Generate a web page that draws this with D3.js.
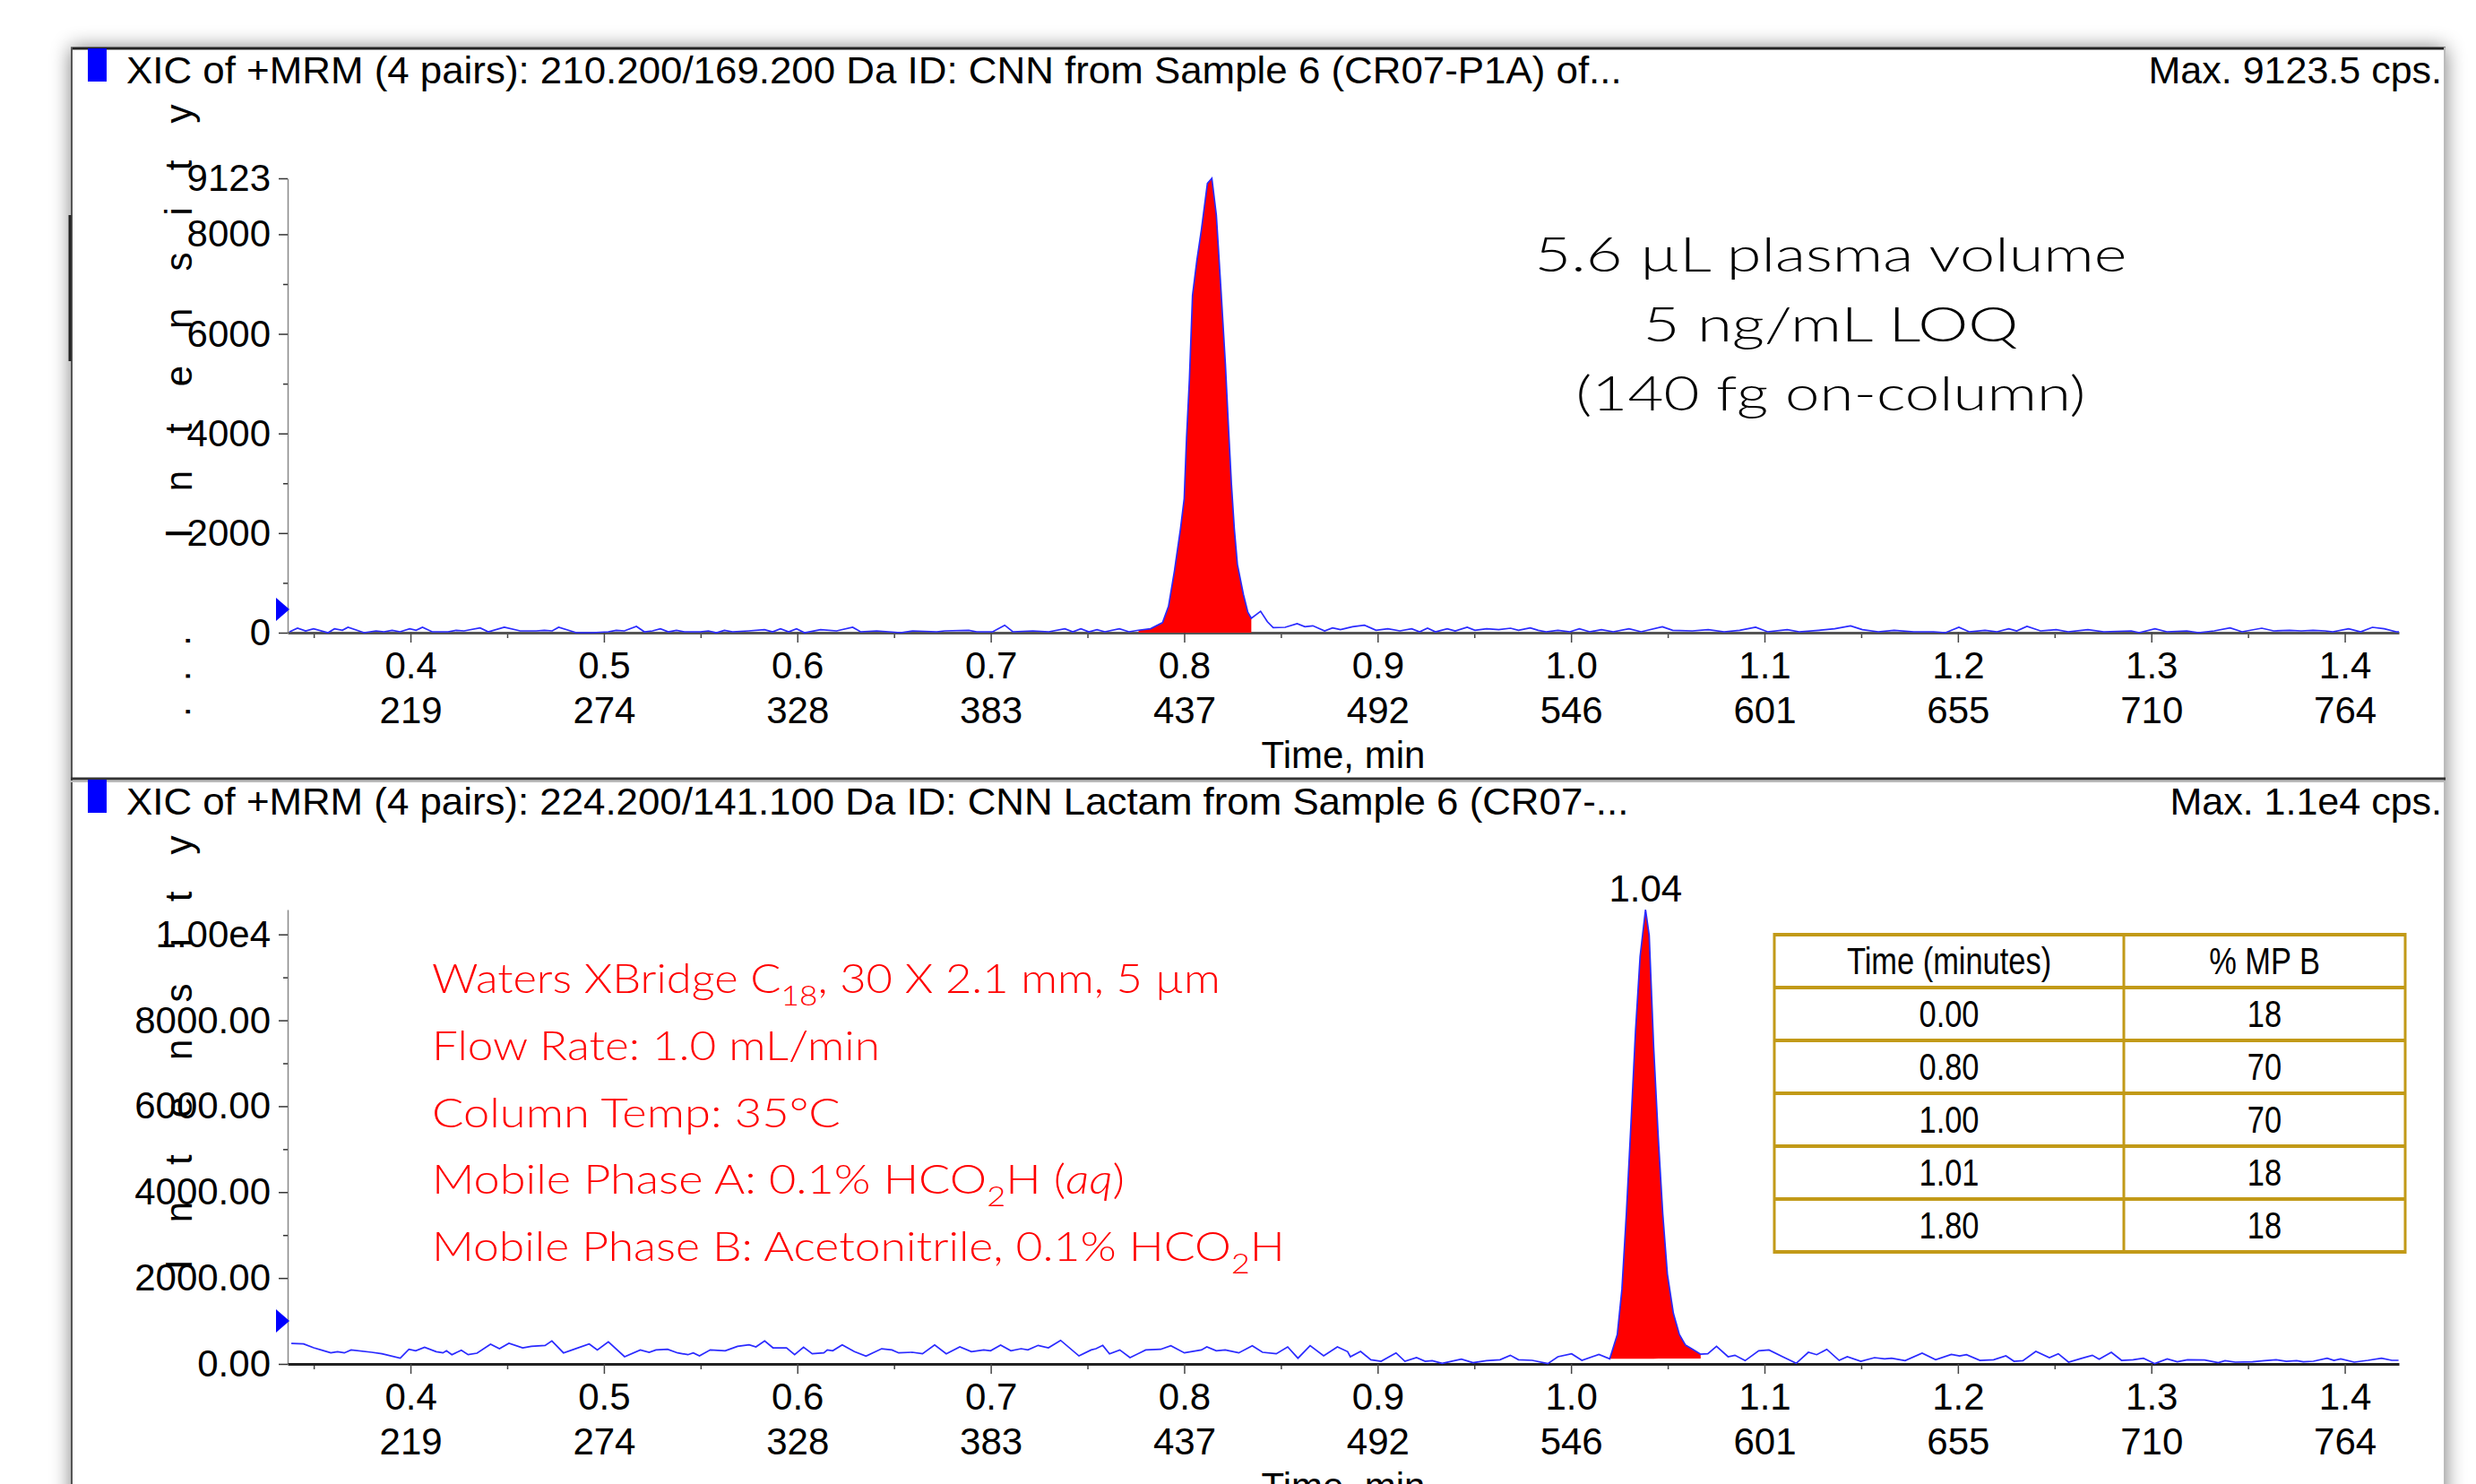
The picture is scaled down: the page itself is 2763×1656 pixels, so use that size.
<!DOCTYPE html>
<html><head><meta charset="utf-8">
<script src="https://cdn.jsdelivr.net/npm/d3@7/dist/d3.min.js"></script>
<style>html,body{margin:0;padding:0;background:#fff;}svg{display:block;}</style>
</head><body>
<svg id="chart" width="2763" height="1656"></svg>
<script>
// ---------------- DATA ----------------
const timeDomain = [0.3365, 1.4280];
const xMajorTicks = [0.4,0.5,0.6,0.7,0.8,0.9,1.0,1.1,1.2,1.3,1.4];
const xMinorTicks = [0.35,0.45,0.55,0.65,0.75,0.85,0.95,1.05,1.15,1.25,1.35];
const scanLabels = ["219","274","328","383","437","492","546","601","655","710","764"];

const p1Title = "XIC of +MRM (4 pairs): 210.200/169.200 Da ID: CNN from Sample 6 (CR07-P1A) of...";
const p1Max = "Max. 9123.5 cps.";
const p1YTicks = [0,2000,4000,6000,8000,9123];
const p1YMinor = [1000,3000,5000,7000];
const p1PeakRange = [0.7764, 0.8347];
const p1PeakBase = [0, 0];
const p1Marker = 470;
// [time (min), intensity (cps)]
const p1Trace = [[0.3375,18],[0.3416,90],[0.3458,36],[0.3499,78],[0.3574,0],[0.3607,78],[0.3648,48],[0.3677,108],[0.3760,0],[0.3822,36],[0.3863,18],[0.3905,48],[0.3946,18],[0.3996,78],[0.4029,48],[0.4062,108],[0.4112,18],[0.4194,18],[0.4236,48],[0.4277,36],[0.4360,96],[0.4402,18],[0.4485,108],[0.4567,36],[0.4650,36],[0.4692,48],[0.4733,36],[0.4766,108],[0.4857,0],[0.4940,0],[0.5023,18],[0.5064,48],[0.5106,36],[0.5168,126],[0.5209,18],[0.5251,36],[0.5292,78],[0.5333,18],[0.5375,48],[0.5416,18],[0.5499,18],[0.5540,36],[0.5582,0],[0.5623,48],[0.5665,18],[0.5748,36],[0.5830,60],[0.5872,18],[0.5913,78],[0.5955,18],[0.5996,78],[0.6037,0],[0.6120,60],[0.6203,36],[0.6286,108],[0.6327,18],[0.6410,36],[0.6534,0],[0.6597,36],[0.6720,18],[0.6762,36],[0.6886,48],[0.6927,18],[0.7010,18],[0.7072,150],[0.7114,18],[0.7217,36],[0.7300,18],[0.7383,78],[0.7424,18],[0.7466,78],[0.7507,18],[0.7549,60],[0.7590,18],[0.7665,78],[0.7714,18],
[0.7764,50],[0.7826,80],[0.7888,200],[0.7919,530],[0.7950,1250],[0.7981,2090],[0.8000,2690],[0.8012,3890],[0.8027,5090],[0.8043,6770],[0.8066,7490],[0.8089,8090],[0.8120,9020],[0.8143,9123],[0.8166,8390],[0.8190,6890],[0.8213,5390],[0.8228,4190],[0.8244,2990],[0.8259,2090],[0.8275,1370],[0.8306,770],[0.8329,410],[0.8347,290],
[0.8395,430],[0.8430,220],[0.8460,100],[0.8522,108],[0.8584,180],[0.8624,120],[0.8665,138],[0.8726,36],[0.8767,96],[0.8808,60],[0.8870,120],[0.8932,150],[0.8992,48],[0.9053,78],[0.9115,36],[0.9176,78],[0.9217,18],[0.9258,90],[0.9299,18],[0.9360,78],[0.9401,36],[0.9463,108],[0.9503,48],[0.9564,78],[0.9626,60],[0.9687,90],[0.9728,48],[0.9789,96],[0.9830,48],[0.9871,18],[0.9932,48],[0.9994,18],[1.0043,78],[1.0096,18],[1.0157,60],[1.0218,18],[1.0300,78],[1.0362,18],[1.0472,120],[1.0525,48],[1.0627,36],[1.0709,60],[1.0791,18],[1.0872,48],[1.0954,108],[1.1016,18],[1.1118,60],[1.1179,18],[1.1282,48],[1.1363,78],[1.1445,138],[1.1506,60],[1.1588,18],[1.1670,48],[1.1772,18],[1.1874,18],[1.1936,0],[1.2005,108],[1.2058,18],[1.2140,48],[1.2202,18],[1.2263,78],[1.2304,36],[1.2357,126],[1.2427,36],[1.2508,60],[1.2570,18],[1.2672,60],[1.2754,18],[1.2896,36],[1.2937,0],[1.3019,78],[1.3080,18],[1.3183,36],[1.3244,0],[1.3325,36],[1.3407,96],[1.3469,18],[1.3571,90],[1.3632,36],[1.3714,48],[1.3775,36],[1.3836,48],[1.3898,36],[1.3938,18],[1.4020,78],[1.4082,18],[1.4143,108],[1.4204,78],[1.4266,18],[1.4280,18]];

const p2Title = "XIC of +MRM (4 pairs): 224.200/141.100 Da ID: CNN Lactam from Sample 6 (CR07-...";
const p2Max = "Max. 1.1e4 cps.";
const p2YTicks = [0,2000,4000,6000,8000,10000];
const p2YMinor = [1000,3000,5000,7000,9000];
const p2PeakRange = [1.0200, 1.0670];
const p2PeakBase = [120, 125];
const p2Marker = 1000;
const p2Trace = [[0.3384,479],[0.3447,465],[0.3500,375],[0.3553,306],[0.3588,257],[0.3623,285],[0.3658,257],[0.3693,326],[0.3799,271],[0.3852,236],[0.3947,132],[0.3992,340],[0.4027,306],[0.4073,389],[0.4133,285],[0.4168,257],[0.4186,306],[0.4214,215],[0.4263,319],[0.4298,215],[0.4344,250],[0.4414,458],[0.4460,354],[0.4509,479],[0.4580,375],[0.4625,410],[0.4696,431],[0.4731,535],[0.4791,257],[0.4836,326],[0.4924,465],[0.4966,326],[0.5023,514],[0.5107,167],[0.5188,326],[0.5234,271],[0.5269,326],[0.5329,340],[0.5381,257],[0.5434,215],[0.5462,257],[0.5494,187],[0.5550,326],[0.5627,306],[0.5691,410],[0.5751,444],[0.5786,396],[0.5831,535],[0.5874,375],[0.5944,375],[0.5986,215],[0.6032,389],[0.6077,236],[0.6137,257],[0.6155,326],[0.6183,306],[0.6232,444],[0.6295,285],[0.6355,181],[0.6436,354],[0.6489,326],[0.6524,257],[0.6594,271],[0.6647,236],[0.6710,444],[0.6770,236],[0.6840,396],[0.6900,285],[0.6964,326],[0.6999,306],[0.7051,437],[0.7104,306],[0.7157,354],[0.7192,326],[0.7245,431],[0.7298,375],[0.7361,549],[0.7456,187],[0.7519,326],[0.7544,354],[0.7579,431],[0.7614,236],[0.7667,326],[0.7720,146],[0.7801,326],[0.7878,340],[0.7931,424],[0.8001,257],[0.8089,326],[0.8117,396],[0.8166,306],[0.8212,326],[0.8282,257],[0.8352,424],[0.8405,271],[0.8476,236],[0.8535,396],[0.8588,132],[0.8651,424],[0.8721,187],[0.8792,396],[0.8845,285],
[0.8859,167],[0.8912,292],[0.8965,97],[0.9018,62],[0.9095,257],[0.9141,62],[0.9201,146],[0.9246,62],[0.9282,76],[0.9334,14],[0.9433,111],[0.9493,28],[0.9563,76],[0.9633,97],[0.9686,201],[0.9728,97],[0.9799,83],[0.9880,7],[0.9932,167],[1.0003,236],[1.0056,83],[1.0144,222],
[1.0200,120],[1.0239,683],[1.0263,1739],[1.0286,3500],[1.0310,5614],[1.0333,7728],[1.0357,9486],[1.0385,10578],[1.0404,9978],[1.0427,7374],[1.0451,5260],[1.0474,3500],[1.0498,2091],[1.0529,1177],[1.0560,683],[1.0592,437],[1.0631,333],[1.0670,225],
[1.0707,236],[1.0752,410],[1.0812,167],[1.0847,201],[1.0900,76],[1.0970,306],[1.1023,326],[1.1094,167],[1.1164,14],[1.1227,271],[1.1270,215],[1.1322,340],[1.1386,83],[1.1428,167],[1.1498,62],[1.1569,146],[1.1621,118],[1.1657,132],[1.1727,76],[1.1815,250],[1.1885,97],[1.1966,222],[1.2009,187],[1.2044,215],[1.2114,83],[1.2185,97],[1.2248,187],[1.2290,62],[1.2336,76],[1.2403,292],[1.2473,146],[1.2519,236],[1.2572,42],[1.2642,132],[1.2695,201],[1.2730,111],[1.2793,271],[1.2846,83],[1.2906,97],[1.2959,132],[1.3018,7],[1.3082,118],[1.3134,49],[1.3187,97],[1.3275,90],[1.3346,28],[1.3381,76],[1.3434,42],[1.3522,49],[1.3585,76],[1.3645,97],[1.3698,62],[1.3751,76],[1.3786,49],[1.3838,62],[1.3909,132],[1.3944,83],[1.3979,118],[1.4049,42],[1.4120,83],[1.4190,132],[1.4243,83],[1.4278,83]];

const annotationLines = ["5.6 µL plasma volume", "5 ng/mL LOQ", "(140 fg on-column)"];
// segments: [text, style]  style: "" normal, "sub" subscript, "it" italic
const conditionLines = [
  [["Waters XBridge C",""],["18","sub"],[", 30 X 2.1 mm, 5 µm",""]],
  [["Flow Rate: 1.0 mL/min",""]],
  [["Column Temp: 35°C",""]],
  [["Mobile Phase A: 0.1% HCO",""],["2","sub"],["H (",""],["aq","it"],[")",""]],
  [["Mobile Phase B: Acetonitrile, 0.1% HCO",""],["2","sub"],["H",""]]
];
const gradientHeader = ["Time (minutes)", "% MP B"];
const gradientTime = ["0.00","0.80","1.00","1.01","1.80"];
const gradientB = ["18","70","70","18","18"];

// ---------------- DRAW ----------------
const W = 2763, H = 1656;
const FONT = '"Liberation Sans", Arial, Helvetica, sans-serif';
const ANN = 'Lato, "Open Sans", "Noto Sans", sans-serif';
const svg = d3.select("#chart");

function fit(sel, target, x, y) {
  const w = sel.node().getBBox().width;
  const s = w > 0 ? target / w : 1;
  sel.attr("transform", `translate(${x},${y}) scale(${s},1)`);
}

const defs = svg.append("defs");
defs.append("filter").attr("id","shadow").attr("x","-5%").attr("y","-10%").attr("width","110%").attr("height","120%")
  .append("feGaussianBlur").attr("stdDeviation", 11);

svg.append("rect").attr("width", W).attr("height", H).attr("fill", "#fff");
svg.append("rect").attr("x", 79).attr("y", 53).attr("width", 2650).attr("height", 1750)
  .attr("fill", "#000").attr("opacity", 0.5).attr("filter", "url(#shadow)");
svg.append("rect").attr("x", 79).attr("y", 53).attr("width", 2650).attr("height", 1750).attr("fill", "#fff");
svg.append("line").attr("x1", 79).attr("x2", 2729).attr("y1", 54).attr("y2", 54).attr("stroke", "#222").attr("stroke-width", 3);
svg.append("line").attr("x1", 80).attr("x2", 80).attr("y1", 53).attr("y2", H).attr("stroke", "#555").attr("stroke-width", 2);
svg.append("line").attr("x1", 78).attr("x2", 78).attr("y1", 240).attr("y2", 403).attr("stroke", "#222").attr("stroke-width", 3);
svg.append("line").attr("x1", 2728).attr("x2", 2728).attr("y1", 53).attr("y2", H).attr("stroke", "#bbb").attr("stroke-width", 2);
svg.append("line").attr("x1", 79).attr("x2", 2729).attr("y1", 869).attr("y2", 869).attr("stroke", "#333").attr("stroke-width", 3);
svg.append("line").attr("x1", 79).attr("x2", 2729).attr("y1", 872).attr("y2", 872).attr("stroke", "#bbb").attr("stroke-width", 2);

const x = d3.scaleLinear().domain(timeDomain).range([321, 2677]);

const panels = [
  {off: 0, title: p1Title, max: p1Max, trace: p1Trace, yTicks: p1YTicks, yMinor: p1YMinor,
   fmt: d => d3.format("d")(d), range: p1PeakRange, base: p1PeakBase, marker: p1Marker,
   axisColor: "#555", dots: true, label: false, titleW: 1669},
  {off: 816, title: p2Title, max: p2Max, trace: p2Trace, yTicks: p2YTicks, yMinor: p2YMinor,
   fmt: d => d >= 10000 ? d3.format(".2e")(d).replace("e+", "e") : d3.format(".2f")(d), range: p2PeakRange, base: p2PeakBase, marker: p2Marker,
   axisColor: "#222", dots: false, label: true, titleW: 1677}
];

panels.forEach(p => {
  const g = svg.append("g").attr("transform", `translate(0,${p.off})`);
  const yMax = d3.max(p.trace, d => d[1]);
  const y = d3.scaleLinear().domain([0, yMax]).range([706, 199]);

  // title bar
  g.append("rect").attr("x", 98).attr("y", 54).attr("width", 21).attr("height", 37).attr("fill", "#0000ff");
  const t = g.append("text").attr("font-family", FONT).attr("font-size", 42).attr("fill", "#000").text(p.title);
  fit(t, p.titleW, 141, 93);
  g.append("text").attr("x", 2725).attr("y", 93).attr("text-anchor", "end")
    .attr("font-family", FONT).attr("font-size", 43).attr("fill", "#000").text(p.max);

  // y label (vertical stacked)
  g.append("text").attr("transform", "translate(214,601) rotate(-90)")
    .attr("font-family", FONT).attr("font-size", 42).attr("letter-spacing", 41).attr("fill", "#000").text("Intensity");
  if (p.dots) {
    g.append("text").attr("transform", "translate(212,800) rotate(-90)")
      .attr("font-family", FONT).attr("font-size", 42).attr("letter-spacing", 28).attr("fill", "#000").text("...");
  }

  // y axis
  const ya = g.append("g").attr("transform", "translate(321,0)")
    .call(d3.axisLeft(y).tickValues(p.yTicks).tickFormat(p.fmt).tickSize(10).tickSizeOuter(0).tickPadding(9));
  ya.select(".domain").attr("stroke", "#888").attr("stroke-width", 1.5);
  ya.selectAll(".tick line").attr("stroke", "#333").attr("stroke-width", 1.5);
  ya.selectAll(".tick text").attr("font-family", FONT).attr("font-size", 42).attr("fill", "#000");
  const ym = g.append("g").attr("transform", "translate(321,0)")
    .call(d3.axisLeft(y).tickValues(p.yMinor).tickFormat("").tickSize(5).tickSizeOuter(0));
  ym.select(".domain").remove();
  ym.selectAll(".tick line").attr("stroke", "#333").attr("stroke-width", 1.5);

  // x axis
  const xm = g.append("g").attr("transform", "translate(0,706)")
    .call(d3.axisBottom(x).tickValues(xMinorTicks).tickFormat("").tickSize(6).tickSizeOuter(0));
  xm.select(".domain").remove();
  xm.selectAll(".tick line").attr("stroke", "#444").attr("stroke-width", 1.5);
  const xa = g.append("g").attr("transform", "translate(0,706)")
    .call(d3.axisBottom(x).tickValues(xMajorTicks).tickFormat(d3.format(".1f")).tickSize(11).tickSizeOuter(0));
  xa.select(".domain").attr("stroke", p.axisColor).attr("stroke-width", 3);
  xa.selectAll(".tick line").attr("stroke", "#444").attr("stroke-width", 1.5);
  xa.selectAll(".tick text").attr("y", 51).attr("dy", 0)
    .attr("font-family", FONT).attr("font-size", 42).attr("fill", "#000");
  xa.selectAll(".tick").append("text").attr("y", 101).attr("fill", "#000")
    .attr("font-family", FONT).attr("font-size", 42).attr("text-anchor", "middle")
    .text((d, i) => scanLabels[i]);
  g.append("text").attr("x", (x.range()[0] + x.range()[1]) / 2).attr("y", 857).attr("text-anchor", "middle")
    .attr("font-family", FONT).attr("font-size", 42).attr("fill", "#000").text("Time, min");

  // marker triangle
  const my = y(p.marker);
  g.append("path").attr("d", `M308,${my - 13}L323,${my}L308,${my + 13}Z`).attr("fill", "#0000ff");

  // peak fill
  const peak = p.trace.filter(d => d[0] >= p.range[0] && d[0] <= p.range[1]);
  const baseAt = tt => p.base[0] + (p.base[1] - p.base[0]) * (tt - p.range[0]) / (p.range[1] - p.range[0]);
  g.append("path").datum(peak)
    .attr("d", d3.area().x(d => x(d[0])).y0(d => y(baseAt(d[0]))).y1(d => y(d[1])))
    .attr("fill", "#ff0000");
  // trace
  g.append("path").datum(p.trace)
    .attr("d", d3.line().x(d => x(d[0])).y(d => y(d[1])))
    .attr("fill", "none").attr("stroke", "#2a2aff").attr("stroke-width", 1.7);

  if (p.label) {
    const apex = p.trace.reduce((a, b) => b[1] > a[1] ? b : a);
    g.append("text").attr("x", x(apex[0])).attr("y", y(apex[1]) - 9).attr("text-anchor", "middle")
      .attr("font-family", FONT).attr("font-size", 42).attr("fill", "#000").text(d3.format(".2f")(apex[0]));
  }
});

// top annotation
const annW = [661, 419, 569];
annotationLines.forEach((s, i) => {
  const t = svg.append("text").attr("font-family", ANN).attr("font-weight", 300).attr("font-size", 54)
    .attr("text-anchor", "middle").attr("fill", "#000").text(s);
  fit(t, annW[i], 2043, 303 + i * 77.5);
});

// chromatographic conditions (red)
const condW = [880, 500, 456, 773, 952];
conditionLines.forEach((segs, i) => {
  const t = svg.append("text").attr("font-family", ANN).attr("font-weight", 300).attr("font-size", 46).attr("fill", "#ff0000");
  let shifted = 0;
  segs.forEach(([s, st]) => {
    const ts = t.append("tspan").text(s);
    if (st === "sub") { ts.attr("dy", 14).attr("font-size", 32); shifted = 14; }
    else { if (shifted) { ts.attr("dy", -shifted); shifted = 0; } if (st === "it") ts.attr("font-style", "italic"); }
  });
  fit(t, condW[i], 482, 1108 + i * 74.8);
});

// gradient table
const tx = [1980, 2370, 2684], ty0 = 1043, rh = 59;
const rows = [gradientHeader].concat(d3.zip(gradientTime, gradientB));
const tg = svg.append("g");
rows.forEach((r, i) => {
  r.forEach((s, j) => {
    tg.append("text").attr("transform", `translate(${(tx[j] + tx[j + 1]) / 2},${ty0 + i * rh + 44}) scale(0.82,1)`)
      .attr("text-anchor", "middle").attr("font-family", FONT).attr("font-size", 42).attr("fill", "#000").text(s);
  });
});
const gold = "#C29A18";
d3.range(rows.length + 1).forEach(i => {
  tg.append("line").attr("x1", tx[0]).attr("x2", tx[2]).attr("y1", ty0 + i * rh).attr("y2", ty0 + i * rh)
    .attr("stroke", gold).attr("stroke-width", 4);
});
tx.forEach(xx => {
  tg.append("line").attr("x1", xx).attr("x2", xx).attr("y1", ty0 - 2).attr("y2", ty0 + rows.length * rh + 2)
    .attr("stroke", gold).attr("stroke-width", 3);
});
</script>
</body></html>
